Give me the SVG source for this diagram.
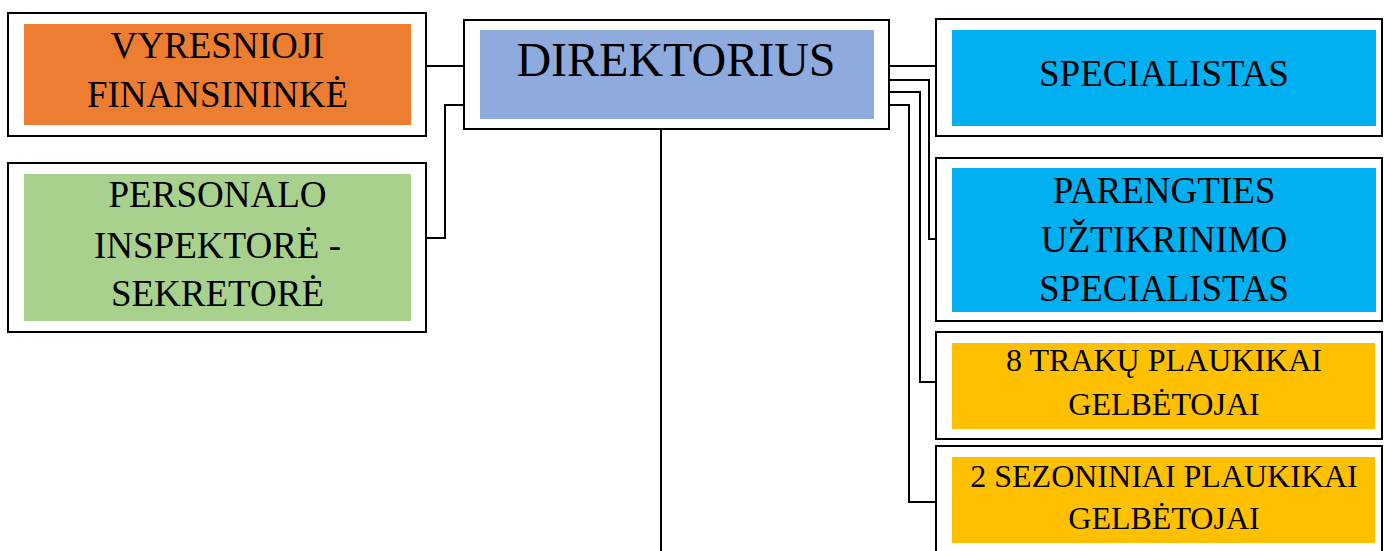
<svg xmlns="http://www.w3.org/2000/svg" width="1384" height="551" viewBox="0 0 1384 551">
<style>
.frame{fill:#fff;stroke:#000;stroke-width:2}
.t{font-family:'Liberation Serif','Times New Roman','DejaVu Serif',serif;fill:#000;text-anchor:middle}
.m{font-size:37px}
.s{font-size:32px}
.c{fill:none;stroke:#000;stroke-width:2}
</style>
<rect width="1384" height="551" fill="#fff"/>
<g id="connectors">
<path class="c" d="M426 66H464"/>
<path class="c" d="M426 238H445V105H464"/>
<path class="c" d="M661 129V551"/>
<path class="c" d="M889 66H936"/>
<path class="c" d="M889 80H929V239H936"/>
<path class="c" d="M889 92H920V382H936"/>
<path class="c" d="M889 105H909V502H936"/>
</g>
<g id="vyresnioji">
<rect class="frame" x="8" y="13" width="418" height="123"/>
<rect x="24" y="24" width="387" height="101" fill="#ED7D31"/>
<text class="t m" x="217.5" y="58">VYRESNIOJI</text>
<text class="t m" x="217.5" y="107">FINANSININKĖ</text>
</g>
<g id="personalo">
<rect class="frame" x="8" y="163" width="418" height="169"/>
<rect x="24" y="174" width="387" height="147" fill="#A9D18E"/>
<text class="t m" x="217.5" y="207">PERSONALO</text>
<text class="t m" x="217.5" y="258">INSPEKTORĖ -</text>
<text class="t m" x="217.5" y="306">SEKRETORĖ</text>
</g>
<g id="direktorius">
<rect class="frame" x="464" y="20" width="425" height="109"/>
<rect x="480" y="30" width="394" height="89" fill="#8FAADC"/>
<text class="t" font-size="48" x="676" y="76">DIREKTORIUS</text>
</g>
<g id="specialistas">
<rect class="frame" x="936" y="19" width="446" height="117"/>
<rect x="952" y="30" width="424" height="96" fill="#00B0F0"/>
<text class="t m" x="1164" y="86">SPECIALISTAS</text>
</g>
<g id="parengties">
<rect class="frame" x="936" y="158" width="446" height="163"/>
<rect x="952" y="168" width="424" height="144" fill="#00B0F0"/>
<text class="t m" x="1164" y="203">PARENGTIES</text>
<text class="t m" x="1164" y="252">UŽTIKRINIMO</text>
<text class="t m" x="1164" y="301">SPECIALISTAS</text>
</g>
<g id="traku">
<rect class="frame" x="936" y="332" width="446" height="107"/>
<rect x="952" y="343" width="423" height="86" fill="#FFC000"/>
<text class="t s" x="1164" y="371">8 TRAKŲ PLAUKIKAI</text>
<text class="t s" x="1164" y="415">GELBĖTOJAI</text>
</g>
<g id="sezoniniai">
<rect class="frame" x="936" y="446" width="446" height="120"/>
<rect x="952" y="457" width="423" height="86" fill="#FFC000"/>
<text class="t s" x="1164" y="487">2 SEZONINIAI PLAUKIKAI</text>
<text class="t s" x="1164" y="529">GELBĖTOJAI</text>
</g>
</svg>
